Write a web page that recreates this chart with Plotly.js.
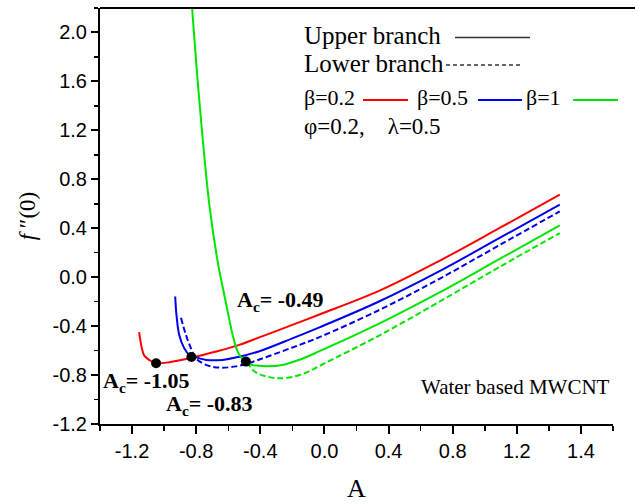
<!DOCTYPE html>
<html><head><meta charset="utf-8">
<script src="https://cdn.plot.ly/plotly-3.0.1.min.js"></script>
<style>html,body{margin:0;padding:0;background:#fff}#chart{width:635px;height:504px}</style>
</head><body><div id="chart"></div>
<script>
// ---- data ----
const redA = [-1.156,-1.139,-1.124,-1.093,-1.051,-0.968,-0.823,-0.676,-0.531,-0.406,-0.200,-0.031,0.344,0.718,1.093,1.468];
const redY = [-0.449,-0.580,-0.641,-0.676,-0.703,-0.695,-0.657,-0.608,-0.553,-0.492,-0.390,-0.305,-0.110,0.134,0.402,0.674];

const blueUpperA = [-0.931,-0.923,-0.906,-0.875,-0.843,-0.816,-0.739,-0.635,-0.531,-0.406,-0.200,-0.031,0.344,0.718,1.093,1.468];
const blueUpperY = [-0.158,-0.308,-0.471,-0.580,-0.635,-0.649,-0.676,-0.676,-0.650,-0.605,-0.500,-0.410,-0.197,0.049,0.321,0.592];

const blueLowerA = [-0.895,-0.864,-0.833,-0.802,-0.739,-0.656,-0.552,-0.468,-0.200,-0.031,0.344,0.718,1.093,1.468];
const blueLowerY = [-0.332,-0.471,-0.580,-0.662,-0.717,-0.739,-0.729,-0.700,-0.575,-0.490,-0.267,-0.013,0.263,0.538];

const greenUpperA = [-0.826,-0.781,-0.718,-0.668,-0.625,-0.593,-0.568,-0.543,-0.512,-0.479,-0.450,-0.364,-0.262,-0.156,-0.031,0.344,0.718,1.093,1.468];
const greenUpperY = [2.210,1.452,0.592,0.142,-0.144,-0.349,-0.496,-0.602,-0.668,-0.692,-0.717,-0.727,-0.717,-0.675,-0.605,-0.378,-0.125,0.149,0.423];

const greenLowerA = [-0.479,-0.450,-0.406,-0.344,-0.280,-0.200,-0.100,0.000,0.344,0.718,1.093,1.468];
const greenLowerY = [-0.692,-0.755,-0.793,-0.817,-0.826,-0.815,-0.772,-0.705,-0.475,-0.200,0.084,0.361];

const criticalA = [-1.05,-0.83,-0.49];
const criticalY = [-0.703,-0.652,-0.690];
const criticalLabels = ['-1.05','-0.83','-0.49'];

const xTickVals = [-1.2,-0.8,-0.4,0.0,0.4,0.8,1.2,1.6];
const xTickText = ['-1.2','-0.8','-0.4','0.0','0.4','0.8','1.2','1.4'];
const yTickVals = [-1.2,-0.8,-0.4,0.0,0.4,0.8,1.2,1.6,2.0];
const yTickText = ['-1.2','-0.8','-0.4','0.0','0.4','0.8','1.2','1.6','2.0'];

// ---- layout helpers (pixel -> paper) ----
const L=100, R=613, T=8, B=424;
const px = x => (x-L)/(R-L);
const py = y => (B-y)/(B-T);
const SERIF = 'Liberation Serif, Times New Roman, serif';
const SANS = 'Liberation Sans, Arial, sans-serif';
const RED='#ff0000', BLUE='#0000ee', GREEN='#00e600';

const lineOpts = (c, dash) => ({color:c, width:2, dash: dash||'solid', shape:'spline', smoothing:1.0});

const traces = [
  {x:redA, y:redY, mode:'lines', line:lineOpts(RED)},
  {x:blueUpperA, y:blueUpperY, mode:'lines', line:lineOpts(BLUE)},
  {x:blueLowerA, y:blueLowerY, mode:'lines', line:lineOpts(BLUE,'6px,3px')},
  {x:greenUpperA, y:greenUpperY, mode:'lines', line:lineOpts(GREEN)},
  {x:greenLowerA, y:greenLowerY, mode:'lines', line:lineOpts(GREEN,'6px,3px')},
  {x:criticalA, y:criticalY, mode:'markers', marker:{color:'#000', size:10}}
];

function txt(text, x, y, size, xanchor){
  return {xref:'paper', yref:'paper', x:px(x), y:py(y), text:text, showarrow:false,
    xanchor:xanchor||'left', yanchor:'middle', font:{family:SERIF, size:size, color:'#000'}};
}
const annotations = [
  txt('Upper branch', 302, 36, 25),
  txt('Lower branch', 302, 64, 25),
  txt('β=0.2', 302, 97, 22),
  txt('β=0.5', 415, 97, 22),
  txt('β=1', 524, 97, 22),
  txt('φ=0.2,    λ=0.5', 302, 126, 23),
  txt('Water based MWCNT', 515, 387, 21, 'center'),
  txt('<b>A<sub>c</sub>= '+criticalLabels[0]+'</b>', 146, 382, 22, 'center'),
  txt('<b>A<sub>c</sub>= '+criticalLabels[1]+'</b>', 209, 405, 22, 'center'),
  txt('<b>A<sub>c</sub>= '+criticalLabels[2]+'</b>', 280, 301, 22, 'center')
];

function seg(x0,x1,y,color,w,dash){
  return {type:'line', xref:'paper', yref:'paper', x0:px(x0), x1:px(x1), y0:py(y), y1:py(y),
    line:{color:color, width:w, dash:dash||'solid'}};
}
const shapes = [
  seg(455,530,37.5,'#333',1.3),
  seg(446,523,65,'#333',1.3,'4px,3px'),
  seg(363,408,100,RED,2),
  seg(478,522,100,BLUE,2),
  seg(573,618,100,GREEN,2),
  {type:'line', xref:'paper', yref:'paper', x0:0, x1:px(635), y0:1, y1:1, line:{color:'#000', width:2}}
];

const layout = {
  width:635, height:504,
  margin:{l:L, r:635-R, t:T, b:504-B},
  paper_bgcolor:'#fff', plot_bgcolor:'#fff',
  showlegend:false,
  xaxis:{range:[-1.4,1.8], tickmode:'array', tickvals:xTickVals, ticktext:xTickText,
    ticks:'outside', ticklen:8, tickwidth:2, tickcolor:'#000',
    minor:{tickmode:'linear', tick0:-1.4, dtick:0.2, ticks:'outside', ticklen:5, tickwidth:1.5, tickcolor:'#000'},
    showline:true, linecolor:'#000', linewidth:2, showgrid:false, zeroline:false,
    tickfont:{family:SANS, size:20, color:'#000'},
    title:{text:'A', font:{family:SERIF, size:26, color:'#000'}, standoff:18}},
  yaxis:{range:[-1.2,2.2], tickmode:'array', tickvals:yTickVals, ticktext:yTickText,
    ticks:'outside', ticklen:7, tickwidth:2, tickcolor:'#000',
    minor:{tickmode:'linear', tick0:-1.2, dtick:0.2, ticks:'outside', ticklen:4, tickwidth:1.5, tickcolor:'#000'},
    showline:true, linecolor:'#000', linewidth:2, showgrid:false, zeroline:false,
    tickfont:{family:SANS, size:20, color:'#000'},
    title:{text:'<i>f</i> ″(0)', font:{family:SERIF, size:23, color:'#000'}, standoff:10}},
  annotations:annotations,
  shapes:shapes
};

Plotly.newPlot('chart', traces, layout, {displayModeBar:false, staticPlot:true});
</script></body></html>
